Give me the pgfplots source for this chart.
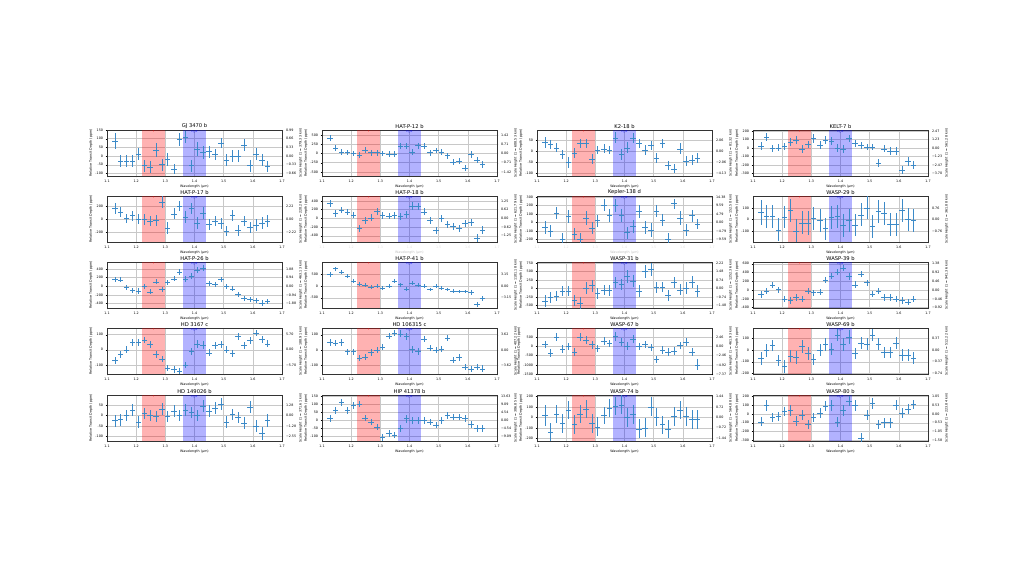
\documentclass[border=0pt]{standalone}
\usepackage{fontspec}
\setmainfont{DejaVu Sans}
\usepackage{pgfplots}
\usepackage{pgfplotstable}
\pgfplotsset{compat=1.18}
\definecolor{errl}{RGB}{60,138,200}
\definecolor{gridc}{RGB}{200,200,200}

\pgfplotstableread{
name c0 c1 c2 c3 c4 c5 c6 c7 c8 c9 c10 c11 c12 c13 c14 c15 c16 c17 c18 c19 c20 c21 c22 c23 c24 c25 c26
x 1.127 1.147 1.167 1.187 1.208 1.228 1.248 1.268 1.288 1.308 1.329 1.349 1.369 1.389 1.409 1.429 1.450 1.470 1.490 1.510 1.530 1.550 1.570 1.591 1.611 1.631 1.651
ex 0.0095 0.0095 0.0095 0.0095 0.0095 0.0095 0.0095 0.0095 0.0095 0.0095 0.0095 0.0095 0.0095 0.0095 0.0095 0.0095 0.0095 0.0095 0.0095 0.0095 0.0095 0.0095 0.0095 0.0095 0.0095 0.0095 0.0095
y1 85 -30 -30 -30 10 -55 -65 35 -50 -20 -75 95 110 -55 40 20 25 10 75 -25 0 0 65 -55 10 -25 -60
e1 45 35 35 35 35 35 35 40 35 35 30 35 35 35 40 35 35 30 30 35 35 35 35 35 35 35 30
y2 420 150 40 30 0 -40 100 20 20 0 -20 -20 190 200 40 210 200 20 80 30 -60 -240 -200 -400 -30 -180 -300
e2 90 80 75 75 80 80 85 80 80 80 80 80 80 85 85 85 85 80 80 80 80 85 85 85 85 90 90
y3 40 30 15 -15 -50 -10 35 35 -35 5 10 5 60 -15 15 60 35 5 25 -30 35 -65 -80 10 -45 -40 -30
e3 25 20 20 20 25 22 20 20 22 20 20 20 25 25 25 22 20 22 20 22 20 20 20 25 22 22 22
y4 20 130 -5 0 20 70 90 -10 40 110 30 90 80 0 -10 110 50 30 10 10 -180 -10 -40 -40 -260 -160 -200
e4 45 45 40 40 40 45 45 45 45 50 45 45 45 45 45 45 40 40 40 40 45 40 45 45 50 50 45
y5 160 100 10 50 0 -10 -30 -20 260 -140 80 200 30 160 -60 90 -80 -30 -70 -180 50 -170 -30 -130 -90 -60 -30
e5 80 75 70 75 75 80 80 85 90 90 80 80 90 90 90 90 80 80 80 80 80 85 80 85 85 85 85
y6 350 120 190 140 80 -230 -40 10 160 60 50 60 40 90 280 270 150 -50 -280 0 -140 -190 -230 -120 -100 -460 -270
e6 80 80 75 75 75 80 80 80 80 75 75 75 80 80 85 85 80 80 85 80 80 80 85 80 85 90 90
y7 -60 -100 110 -200 70 -140 -200 50 -70 20 200 80 200 80 -120 -50 130 -60 -90 130 30 -200 220 50 -90 80 -20
e7 80 70 70 70 80 70 70 80 70 70 70 75 75 80 70 80 80 80 80 70 70 70 60 80 70 70 60
y8 60 30 30 -90 20 80 -100 -30 -30 10 -10 -80 20 30 -50 -10 -50 40 100 -60 70 50 -40 -40 80 0 -10
e8 110 100 100 100 95 100 100 100 105 100 100 95 100 100 100 100 95 100 100 100 100 100 100 100 100 100 100
y9 160 150 -30 -100 -110 -10 -130 100 -80 90 170 330 160 240 380 420 60 40 160 0 -60 -190 -280 -300 -330 -390 -350
e9 60 60 60 60 60 60 60 60 65 60 60 65 65 65 70 70 60 60 60 60 60 60 60 60 60 65 65
y10 470 720 580 420 200 80 40 -50 0 -100 0 200 50 -140 100 40 0 -150 0 -80 -150 -220 -240 -240 -280 -770 -520
e10 90 80 80 80 80 80 80 80 80 80 80 80 80 85 85 85 80 80 80 80 80 80 80 80 85 100 100
y11 -370 -260 -230 -80 -80 -350 -430 10 80 -150 -50 -60 170 110 350 220 -80 500 560 20 40 -200 170 -40 10 190 -80
e11 170 160 150 150 150 160 170 170 180 160 160 160 170 170 180 180 170 180 180 160 160 160 160 170 170 180 180
y12 -100 -20 120 10 -200 -240 -170 -200 -20 -60 -50 220 320 410 500 320 120 370 170 -100 -20 -170 -170 -210 -240 -280 -210
e12 80 70 70 70 70 70 70 70 75 70 70 70 70 75 75 80 75 70 70 70 70 70 70 70 70 70 70
y13 -70 -30 0 50 50 65 35 -30 -60 -120 -130 -140 -100 -10 40 30 -20 30 35 0 -25 90 30 60 110 70 40
e13 25 22 22 22 22 22 22 22 22 22 22 22 22 25 25 25 22 22 22 22 22 22 22 22 22 22 22
y14 50 45 50 -10 -10 -50 -45 -15 0 20 90 110 105 90 5 -10 70 15 0 5 80 -65 -45 -110 -120 -110 -120
e14 22 20 20 20 20 20 20 20 20 20 20 20 22 22 22 22 20 20 20 20 20 20 22 20 20 20 22
y15 100 -350 500 -150 0 -300 500 350 100 -100 300 150 550 250 0 400 0 100 -50 -700 -200 -300 -250 50 250 -300 -1000
e15 200 200 220 200 200 200 220 220 220 200 200 200 230 230 220 230 200 200 200 200 200 200 200 200 220 220 300
y16 -70 0 40 -90 -140 -50 -60 30 -30 -80 0 50 10 130 50 110 -30 60 50 130 50 -20 -20 60 -40 -40 -70
e16 55 55 50 50 55 55 55 55 55 50 50 55 55 55 55 60 50 50 50 50 50 50 50 50 50 50 50
y17 -25 -20 0 25 -30 10 0 -5 30 -5 20 0 25 15 0 45 20 35 55 -30 5 -10 -35 40 -50 -85 -25
e17 28 28 28 28 28 28 28 28 28 28 28 28 28 28 28 30 28 28 28 28 28 28 28 30 30 30 30
y18 10 60 110 60 90 100 15 -10 -40 -105 -80 -90 -50 10 0 0 0 -10 -30 0 30 20 20 10 -25 -50 -50
e18 20 20 22 20 20 20 20 20 20 20 20 20 20 25 22 20 20 20 20 20 20 20 20 20 22 22 22
y19 20 -140 30 -60 70 -70 30 80 -60 -90 20 90 110 120 0 30 -110 -100 100 0 -70 -110 10 70 10 -20 -20
e19 100 90 85 90 90 90 85 90 90 90 80 85 85 90 90 90 90 90 90 85 85 85 90 90 90 90 90
y20 -90 100 -40 -30 30 40 -80 -10 -120 -40 10 90 100 -90 40 150 100 -280 -10 120 -120 -100 -100 100 10 60 110
e20 50 60 55 55 55 60 55 55 55 55 55 55 60 60 60 60 60 60 60 60 55 55 55 55 55 55 55
}\raw
\pgfplotstabletranspose[colnames from=name]\data{\raw}

\newcommand{\smallf}{\fontsize{3.3}{3.8}\selectfont}
\newcommand{\bandf}{\fontsize{2.6}{3}\selectfont}

\pgfplotsset{
  every axis title/.style={at={(0.5,1)}, anchor=south, inner sep=0.9pt, text=black, font=\fontsize{5.2}{5.6}\selectfont},
  every error bar/.append style={draw=errl, color=errl},
  panel/.style={scale only axis, width=175pt, height=46pt, anchor=north west,
    xmin=1.1, xmax=1.7, xtick={1.1,1.2,1.3,1.4,1.5,1.6,1.7},
    xticklabels={1.1,1.2,1.3,1.4,1.5,1.6,1.7},
    grid=major, major grid style={gridc, line width=0.4pt},
    tick label style={font=\smallf, text=black},
    label style={font=\smallf, text=black},
    xlabel={Wavelength (μm)}, ylabel={Relative Transit Depth (ppm)},
    xlabel style={yshift=3.8pt}, ylabel style={yshift=-4pt},
    tick align=outside, major tick length=1.3pt, tick style={black, line width=0.3pt},
    xtick pos=bottom, ytick pos=left,
    axis line style={line width=0.4pt, black!80},
    xticklabel style={yshift=1pt}, yticklabel style={xshift=0.8pt},
    /pgf/number format/assume math mode=true, /pgf/number format/1000 sep={},
  },
  rightax/.style={scale only axis, width=175pt, height=46pt, anchor=north west,
    xmin=1.1, xmax=1.7, hide x axis, axis y line*=right,
    tick label style={font=\smallf, text=black}, label style={font=\smallf, text=black},
    tick align=outside, major tick length=1.3pt, tick style={black, line width=0.3pt},
    axis line style={line width=0.4pt, black!80},
    yticklabel style={xshift=-0.8pt}, ylabel style={yshift=4pt},
  },
}

% #1 position, #2 title, #3 ymin, #4 ymax, #5 yticks, #6 right labels, #7 right ylabel, #8 index, #9 extra
\newcommand{\panel}[9]{%
\begin{axis}[panel, at={(#1)}, title={#2}, ymin=#3, ymax=#4, ytick={#5}, #9]
  \fill[red, opacity=0.3] (axis cs:1.22,#3) rectangle (axis cs:1.30,#4);
  \fill[blue, opacity=0.3] (axis cs:1.36,#3) rectangle (axis cs:1.44,#4);
  \node[red, font=\bandf, anchor=north, inner sep=0.8pt] at (axis cs:1.26,#4) {?};
  \node[blue, font=\bandf, anchor=north, inner sep=0.8pt] at (axis cs:1.40,#4) {H\textsubscript{2}O};
  \addplot[color=errl, only marks, mark=*, mark size=0.05pt,
    mark options={draw opacity=0, fill opacity=0},
    error bars/.cd, x dir=both, x explicit, y dir=both, y explicit,
    error bar style={line width=0.45pt, color=errl, opacity=1, solid},
    error mark=none]
    table[x=x, y=y#8, x error=ex, y error=e#8] {\data};
\end{axis}
\begin{axis}[rightax, at={(#1)}, ymin=#3, ymax=#4, ytick={#5}, yticklabels={#6}, ylabel={#7}]
\end{axis}
}

\begin{document}
\begin{tikzpicture}[color=errl]
\path[use as bounding box] (0,0) rectangle (1024pt,576pt);
% row 1
\panel{107pt,446pt}{GJ 3470 b}{-115}{150}{-100,-50,0,50,100,150}{−0.66,−0.33,0.00,0.33,0.66,0.99}{Scale Height (1 = 379.33 km)}{1}{}
\panel{322pt,446pt}{HAT-P-12 b}{-610}{635}{-500,-250,0,250,500}{−1.42,−0.71,0.00,0.71,1.42}{Scale Height (1 = 608.53 km)}{2}{}
\panel{537pt,446pt}{K2-18 b}{-112}{95}{-100,-50,0,50}{−4.13,−2.06,0.00,2.06}{Scale Height (1 = 81.32 km)}{3}{}
\panel{753pt,446pt}{KELT-7 b}{-330}{210}{-300,-200,-100,0,100,200}{−3.70,−2.47,−1.23,0.00,1.23,2.47}{Scale Height (1 = 561.28 km)}{4}{}
% row 2
\panel{107pt,380pt}{HAT-P-17 b}{-350}{350}{-200,0,200}{−2.22,0.00,2.22}{Scale Height (1 = 220.26 km)}{5}{}
\panel{322pt,380pt}{HAT-P-18 b}{-544}{512}{-400,-200,0,200,400}{−1.25,−0.62,0.00,0.62,1.25}{Scale Height (1 = 621.79 km)}{6}{xticklabel style={text=black!12}, xlabel style={text=black!25}}
\panel{537pt,380pt}{Kepler-138 d}{-230}{310}{-200,-100,0,100,200,300}{−9.59,−4.79,0.00,4.79,9.59,14.38}{Scale Height (1 = 152.50 km)}{7}{xticklabel style={text=black!12}, xlabel style={text=black!25}}
\panel{753pt,380pt}{WASP-29 b}{-196}{204}{-100,0,100}{−0.76,0.00,0.76}{Scale Height (1 = 361.88 km)}{8}{}
% row 3
\panel{107pt,314pt}{HAT-P-26 b}{-504}{560}{-400,-200,0,200,400}{−1.88,−0.94,0.00,0.94,1.88}{Scale Height (1 = 463.13 km)}{9}{}
\panel{322pt,314pt}{HAT-P-41 b}{-930}{1000}{-500,0,500}{−3.15,0.00,3.15}{Scale Height (1 = 1101.18 km)}{10}{}
\panel{537pt,314pt}{WASP-31 b}{-580}{780}{-500,-250,0,250,500,750}{−1.48,−0.74,0.00,0.74,1.48,2.22}{Scale Height (1 = 1252.36 km)}{11}{}
\panel{753pt,314pt}{WASP-39 b}{-410}{640}{-400,-200,0,200,400,600}{−0.92,−0.46,0.00,0.46,0.92,1.38}{Scale Height (1 = 941.36 km)}{12}{}
% row 4
\panel{107pt,248pt}{HD 3167 c}{-160}{144}{-100,0,100}{−5.70,0.00,5.70}{Scale Height (1 = 188.91 km)}{13}{}
\panel{322pt,248pt}{HD 106315 c}{-154}{143}{-100,0,100}{−3.62,0.00,3.62}{Scale Height (1 = 407.22 km)}{14}{}
\panel{537pt,248pt}{WASP-67 b}{-1500}{1000}{-1500,-1000,-500,0,500}{−7.37,−4.92,−2.46,0.00,2.46}{Scale Height (1 = 461.93 km)}{15}{}
\panel{753pt,248pt}{WASP-69 b}{-205}{190}{-200,-100,0,100}{−0.74,−0.37,0.00,0.37}{Scale Height (1 = 512.22 km)}{16}{}
% row 5
\panel{107pt,181pt}{HD 149026 b}{-122}{98}{-100,-50,0,50}{−2.55,−1.28,0.00,1.28}{Scale Height (1 = 371.61 km)}{17}{}
\panel{322pt,181pt}{HIP 41378 b}{-127}{155}{-100,-50,0,50,100,150}{−9.09,−4.54,0.00,4.54,9.09,13.63}{Scale Height (1 = 306.85 km)}{18}{}
\panel{537pt,181pt}{WASP-74 b}{-226}{213}{-200,-100,0,100,200}{−1.44,−0.72,0.00,0.72,1.44}{Scale Height (1 = 564.88 km)}{19}{}
\panel{753pt,181pt}{WASP-80 b}{-310}{218}{-300,-200,-100,0,100,200}{−1.58,−1.05,−0.53,0.00,0.53,1.05}{Scale Height (1 = 223.84 km)}{20}{}
\end{tikzpicture}
\end{document}
